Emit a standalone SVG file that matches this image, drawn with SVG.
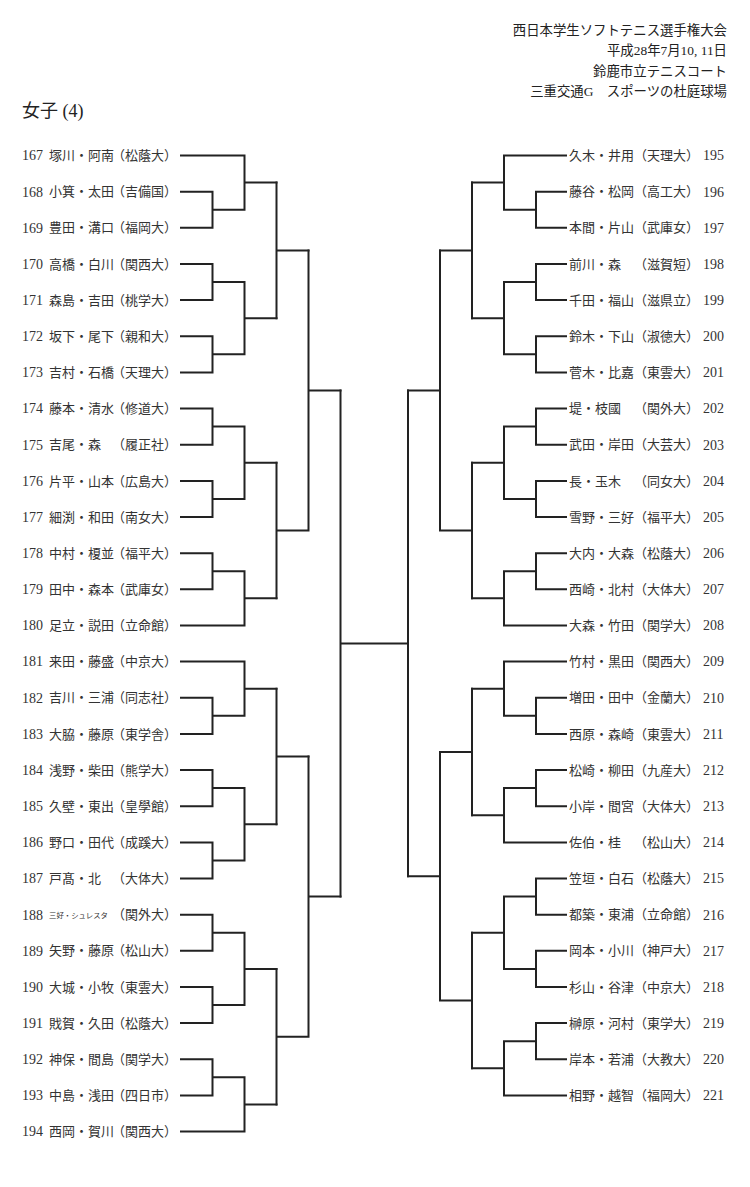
<svg xmlns="http://www.w3.org/2000/svg" width="750" height="1187" viewBox="0 0 750 1187">
<style>
text{font-family:"Liberation Serif","Noto Sans CJK JP",serif;fill:#333;font-size:13px}
.hd{font-size:13.4px;fill:#222;text-anchor:end}
.ttl{font-size:18px;fill:#222}
.num{font-size:14px}
.sm{font-size:7.4px}
#connectors path{fill:none;stroke:#222;stroke-width:2;stroke-linecap:square}
</style>
<rect width="750" height="1187" fill="#fff"/>
<g id="header">
<text class="hd" x="727" y="35">西日本学生ソフトテニス選手権大会</text>
<text class="hd" x="727" y="55">平成28年7月10, 11日</text>
<text class="hd" x="727" y="76">鈴鹿市立テニスコート</text>
<text class="hd" x="727" y="96">三重交通G　スポーツの杜庭球場</text>
<text class="ttl" x="22" y="117">女子 (4)</text>
</g>
<g id="connectors">
<path d="M181 155.5H244.5M181 191.7H212.5V227.8H181M212.5 209.7H244.5M244.5 155.5V209.7M244.5 182.6H276.5"/>
<path d="M181 264H212.5V300.1H181M212.5 282H244.5M181 336.3H212.5V372.4H181M212.5 354.3H244.5M244.5 282V354.3M244.5 318.2H276.5"/>
<path d="M276.5 182.6V318.2M276.5 250.4H308.5"/>
<path d="M181 408.6H212.5V444.7H181M212.5 426.6H244.5M181 480.9H212.5V517H181M212.5 498.9H244.5M244.5 426.6V498.9M244.5 462.8H276.5"/>
<path d="M181 553.2H212.5V589.3H181M212.5 571.2H244.5M181 625.5H244.5M244.5 571.2V625.5M244.5 598.3H276.5"/>
<path d="M276.5 462.8V598.3M276.5 530.5H308.5M308.5 250.4V530.5M308.5 390.5H340.5"/>
<path d="M181 661.6H244.5M181 697.8H212.5V733.9H181M212.5 715.8H244.5M244.5 661.6V715.8M244.5 688.7H276.5"/>
<path d="M181 770.1H212.5V806.2H181M212.5 788.1H244.5M181 842.4H212.5V878.5H181M212.5 860.4H244.5M244.5 788.1V860.4M244.5 824.3H276.5"/>
<path d="M276.5 688.7V824.3M276.5 756.5H308.5"/>
<path d="M181 914.7H212.5V950.8H181M212.5 932.7H244.5M181 987H212.5V1023.1H181M212.5 1005H244.5M244.5 932.7V1005M244.5 968.9H276.5"/>
<path d="M181 1059.3H212.5V1095.4H181M212.5 1077.3H244.5M181 1131.6H244.5M244.5 1077.3V1131.6M244.5 1104.5H276.5"/>
<path d="M276.5 968.9V1104.5M276.5 1036.7H308.5M308.5 756.5V1036.7M308.5 896.6H340.5"/>
<path d="M340.5 390.5V896.6M340.5 643.6H408"/>
<path d="M566 155.5H504M566 191.7H536V227.8H566M536 209.7H504M504 155.5V209.7M504 182.6H472"/>
<path d="M566 264H536V300.1H566M536 282H504M566 336.3H536V372.4H566M536 354.3H504M504 282V354.3M504 318.2H472"/>
<path d="M472 182.6V318.2M472 250.4H440"/>
<path d="M566 408.6H536V444.7H566M536 426.6H504M566 480.9H536V517H566M536 498.9H504M504 426.6V498.9M504 462.8H472"/>
<path d="M566 553.2H536V589.3H566M536 571.2H504M566 625.5H504M504 571.2V625.5M504 598.3H472"/>
<path d="M472 462.8V598.3M472 530.5H440M440 250.4V530.5M440 390.5H408"/>
<path d="M566 661.6H504M566 697.8H536V733.9H566M536 715.8H504M504 661.6V715.8M504 688.7H472"/>
<path d="M566 770.1H536V806.2H566M536 788.1H504M566 842.4H504M504 788.1V842.4M504 815.2H472"/>
<path d="M472 688.7V815.2M472 752H440"/>
<path d="M566 878.5H536V914.7H566M536 896.6H504M566 950.8H536V987H566M536 968.9H504M504 896.6V968.9M504 932.7H472"/>
<path d="M566 1023.1H536V1059.3H566M536 1041.2H504M566 1095.4H504M504 1041.2V1095.4M504 1068.3H472"/>
<path d="M472 932.7V1068.3M472 1000.5H440M440 752V1000.5M440 876.3H408"/>
<path d="M408 390.5V876.3"/>
</g>
<g id="n167"><text class="num" x="22" y="160.3">167</text><text x="49" y="160.1">塚川・阿南</text><text x="112" y="160.1">（松蔭大）</text></g>
<g id="n168"><text class="num" x="22" y="196.5">168</text><text x="49" y="196.3">小箕・太田</text><text x="112" y="196.3">（吉備国）</text></g>
<g id="n169"><text class="num" x="22" y="232.6">169</text><text x="49" y="232.4">豊田・溝口</text><text x="112" y="232.4">（福岡大）</text></g>
<g id="n170"><text class="num" x="22" y="268.8">170</text><text x="49" y="268.6">高橋・白川</text><text x="112" y="268.6">（関西大）</text></g>
<g id="n171"><text class="num" x="22" y="304.9">171</text><text x="49" y="304.7">森島・吉田</text><text x="112" y="304.7">（桃学大）</text></g>
<g id="n172"><text class="num" x="22" y="341.1">172</text><text x="49" y="340.9">坂下・尾下</text><text x="112" y="340.9">（親和大）</text></g>
<g id="n173"><text class="num" x="22" y="377.2">173</text><text x="49" y="377">吉村・石橋</text><text x="112" y="377">（天理大）</text></g>
<g id="n174"><text class="num" x="22" y="413.4">174</text><text x="49" y="413.2">藤本・清水</text><text x="112" y="413.2">（修道大）</text></g>
<g id="n175"><text class="num" x="22" y="449.5">175</text><text x="49" y="449.3">吉尾・森</text><text x="112" y="449.3">（履正社）</text></g>
<g id="n176"><text class="num" x="22" y="485.7">176</text><text x="49" y="485.5">片平・山本</text><text x="112" y="485.5">（広島大）</text></g>
<g id="n177"><text class="num" x="22" y="521.8">177</text><text x="49" y="521.6">細渕・和田</text><text x="112" y="521.6">（南女大）</text></g>
<g id="n178"><text class="num" x="22" y="558">178</text><text x="49" y="557.8">中村・榎並</text><text x="112" y="557.8">（福平大）</text></g>
<g id="n179"><text class="num" x="22" y="594.1">179</text><text x="49" y="593.9">田中・森本</text><text x="112" y="593.9">（武庫女）</text></g>
<g id="n180"><text class="num" x="22" y="630.3">180</text><text x="49" y="630.1">足立・説田</text><text x="112" y="630.1">（立命館）</text></g>
<g id="n181"><text class="num" x="22" y="666.4">181</text><text x="49" y="666.2">来田・藤盛</text><text x="112" y="666.2">（中京大）</text></g>
<g id="n182"><text class="num" x="22" y="702.6">182</text><text x="49" y="702.4">吉川・三浦</text><text x="112" y="702.4">（同志社）</text></g>
<g id="n183"><text class="num" x="22" y="738.7">183</text><text x="49" y="738.5">大脇・藤原</text><text x="112" y="738.5">（東学舎）</text></g>
<g id="n184"><text class="num" x="22" y="774.9">184</text><text x="49" y="774.7">浅野・柴田</text><text x="112" y="774.7">（熊学大）</text></g>
<g id="n185"><text class="num" x="22" y="811">185</text><text x="49" y="810.8">久壁・東出</text><text x="112" y="810.8">（皇學館）</text></g>
<g id="n186"><text class="num" x="22" y="847.2">186</text><text x="49" y="847">野口・田代</text><text x="112" y="847">（成蹊大）</text></g>
<g id="n187"><text class="num" x="22" y="883.3">187</text><text x="49" y="883.1">戸髙・北</text><text x="112" y="883.1">（大体大）</text></g>
<g id="n188"><text class="num" x="22" y="919.5">188</text><text class="sm" x="49" y="917.5">三好・シュレスタ</text><text x="112" y="919.3">（関外大）</text></g>
<g id="n189"><text class="num" x="22" y="955.6">189</text><text x="49" y="955.4">矢野・藤原</text><text x="112" y="955.4">（松山大）</text></g>
<g id="n190"><text class="num" x="22" y="991.8">190</text><text x="49" y="991.6">大城・小牧</text><text x="112" y="991.6">（東雲大）</text></g>
<g id="n191"><text class="num" x="22" y="1027.9">191</text><text x="49" y="1027.7">戝賀・久田</text><text x="112" y="1027.7">（松蔭大）</text></g>
<g id="n192"><text class="num" x="22" y="1064.1">192</text><text x="49" y="1063.9">神保・間島</text><text x="112" y="1063.9">（関学大）</text></g>
<g id="n193"><text class="num" x="22" y="1100.2">193</text><text x="49" y="1100">中島・浅田</text><text x="112" y="1100">（四日市）</text></g>
<g id="n194"><text class="num" x="22" y="1136.4">194</text><text x="49" y="1136.2">西岡・賀川</text><text x="112" y="1136.2">（関西大）</text></g>
<g id="n195"><text x="569" y="160.1">久木・井用</text><text x="634" y="160.1">（天理大）</text><text class="num" x="703" y="160.3">195</text></g>
<g id="n196"><text x="569" y="196.3">藤谷・松岡</text><text x="634" y="196.3">（高工大）</text><text class="num" x="703" y="196.5">196</text></g>
<g id="n197"><text x="569" y="232.4">本間・片山</text><text x="634" y="232.4">（武庫女）</text><text class="num" x="703" y="232.6">197</text></g>
<g id="n198"><text x="569" y="268.6">前川・森</text><text x="634" y="268.6">（滋賀短）</text><text class="num" x="703" y="268.8">198</text></g>
<g id="n199"><text x="569" y="304.7">千田・福山</text><text x="634" y="304.7">（滋県立）</text><text class="num" x="703" y="304.9">199</text></g>
<g id="n200"><text x="569" y="340.9">鈴木・下山</text><text x="634" y="340.9">（淑徳大）</text><text class="num" x="703" y="341.1">200</text></g>
<g id="n201"><text x="569" y="377">菅木・比嘉</text><text x="634" y="377">（東雲大）</text><text class="num" x="703" y="377.2">201</text></g>
<g id="n202"><text x="569" y="413.2">堤・枝國</text><text x="634" y="413.2">（関外大）</text><text class="num" x="703" y="413.4">202</text></g>
<g id="n203"><text x="569" y="449.3">武田・岸田</text><text x="634" y="449.3">（大芸大）</text><text class="num" x="703" y="449.5">203</text></g>
<g id="n204"><text x="569" y="485.5">長・玉木</text><text x="634" y="485.5">（同女大）</text><text class="num" x="703" y="485.7">204</text></g>
<g id="n205"><text x="569" y="521.6">雪野・三好</text><text x="634" y="521.6">（福平大）</text><text class="num" x="703" y="521.8">205</text></g>
<g id="n206"><text x="569" y="557.8">大内・大森</text><text x="634" y="557.8">（松蔭大）</text><text class="num" x="703" y="558">206</text></g>
<g id="n207"><text x="569" y="593.9">西崎・北村</text><text x="634" y="593.9">（大体大）</text><text class="num" x="703" y="594.1">207</text></g>
<g id="n208"><text x="569" y="630.1">大森・竹田</text><text x="634" y="630.1">（関学大）</text><text class="num" x="703" y="630.3">208</text></g>
<g id="n209"><text x="569" y="666.2">竹村・黒田</text><text x="634" y="666.2">（関西大）</text><text class="num" x="703" y="666.4">209</text></g>
<g id="n210"><text x="569" y="702.4">増田・田中</text><text x="634" y="702.4">（金蘭大）</text><text class="num" x="703" y="702.6">210</text></g>
<g id="n211"><text x="569" y="738.5">西原・森崎</text><text x="634" y="738.5">（東雲大）</text><text class="num" x="703" y="738.7">211</text></g>
<g id="n212"><text x="569" y="774.7">松崎・柳田</text><text x="634" y="774.7">（九産大）</text><text class="num" x="703" y="774.9">212</text></g>
<g id="n213"><text x="569" y="810.8">小岸・間宮</text><text x="634" y="810.8">（大体大）</text><text class="num" x="703" y="811">213</text></g>
<g id="n214"><text x="569" y="847">佐伯・桂</text><text x="634" y="847">（松山大）</text><text class="num" x="703" y="847.2">214</text></g>
<g id="n215"><text x="569" y="883.1">笠垣・白石</text><text x="634" y="883.1">（松蔭大）</text><text class="num" x="703" y="883.3">215</text></g>
<g id="n216"><text x="569" y="919.3">都築・東浦</text><text x="634" y="919.3">（立命館）</text><text class="num" x="703" y="919.5">216</text></g>
<g id="n217"><text x="569" y="955.4">岡本・小川</text><text x="634" y="955.4">（神戸大）</text><text class="num" x="703" y="955.6">217</text></g>
<g id="n218"><text x="569" y="991.6">杉山・谷津</text><text x="634" y="991.6">（中京大）</text><text class="num" x="703" y="991.8">218</text></g>
<g id="n219"><text x="569" y="1027.7">榊原・河村</text><text x="634" y="1027.7">（東学大）</text><text class="num" x="703" y="1027.9">219</text></g>
<g id="n220"><text x="569" y="1063.9">岸本・若浦</text><text x="634" y="1063.9">（大教大）</text><text class="num" x="703" y="1064.1">220</text></g>
<g id="n221"><text x="569" y="1100">相野・越智</text><text x="634" y="1100">（福岡大）</text><text class="num" x="703" y="1100.2">221</text></g>
</svg>
